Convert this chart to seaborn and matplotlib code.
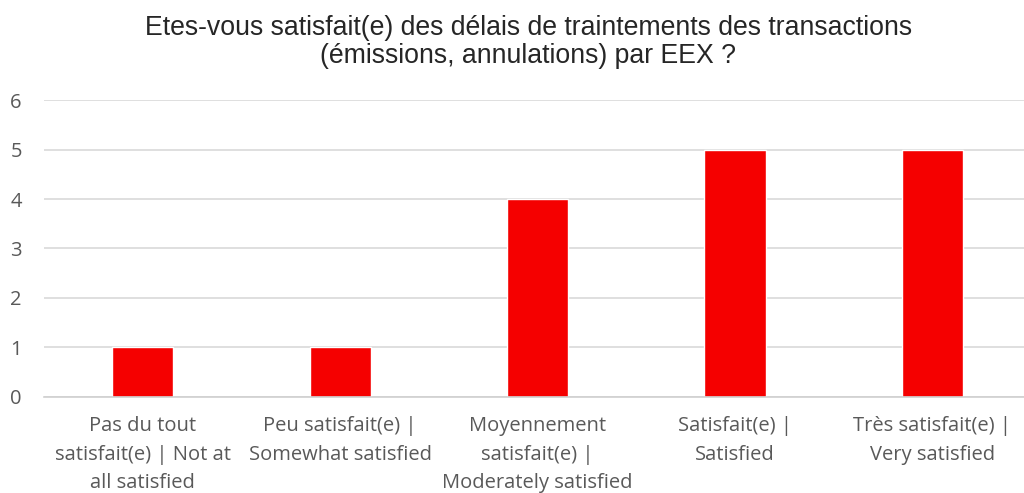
import pandas as pd
import seaborn as sns
import matplotlib.pyplot as plt

# Data
categories = ['Pas du tout\nsatisfait(e) | Not at\nall satisfied',
              'Peu satisfait(e) |\nSomewhat satisfied',
              'Moyennement\nsatisfait(e) |\nModerately satisfied',
              'Satisfait(e) |\nSatisfied',
              'Très satisfait(e) |\nVery satisfied']
counts = [1, 1, 4, 5, 5]

df = pd.DataFrame({'Category': categories, 'Count': counts})

sns.set_theme(style='white')
plt.rcParams['font.family'] = ['Open Sans', 'DejaVu Sans']

fig = plt.figure(figsize=(10.24, 4.93), dpi=100)
ax = fig.add_axes([0.043, 0.195, 0.964, 0.602])

sns.barplot(data=df, x='Category', y='Count', color='#F50000', width=0.31,
            saturation=1, ax=ax)

# Axes styling
ax.set_ylim(0, 6)
ax.set_xlim(-0.5, len(categories) - 0.5)
ax.set_yticks(range(7))
ax.yaxis.grid(True, color='#D9D9D9', linewidth=1.2)
ax.set_axisbelow(True)
for s in ['top', 'right', 'left']:
    ax.spines[s].set_visible(False)
ax.spines['bottom'].set_color('#D0D0D0')
ax.spines['bottom'].set_linewidth(1.2)

ax.tick_params(axis='x', length=0, labelsize=14.5, labelcolor='#595959', pad=14)
ax.tick_params(axis='y', length=0, labelsize=14.5, labelcolor='#595959', pad=16)
for lbl in ax.get_xticklabels():
    lbl.set_linespacing(1.55)
ax.set_xticks([i - 0.5 for i in range(len(categories) + 1)], minor=True)
ax.tick_params(axis='x', which='minor', length=6, color='#D0D0D0', width=1.2,
               direction='out')

ax.set_xlabel('')
ax.set_ylabel('')
fig.suptitle('Etes-vous satisfait(e) des délais de traintements des transactions\n'
             '(émissions, annulations) par EEX ?',
             fontsize=19.2, family=['Liberation Sans', 'DejaVu Sans'],
             x=0.516, y=0.97, linespacing=1.12)

fig.savefig('out.png', dpi=100)
